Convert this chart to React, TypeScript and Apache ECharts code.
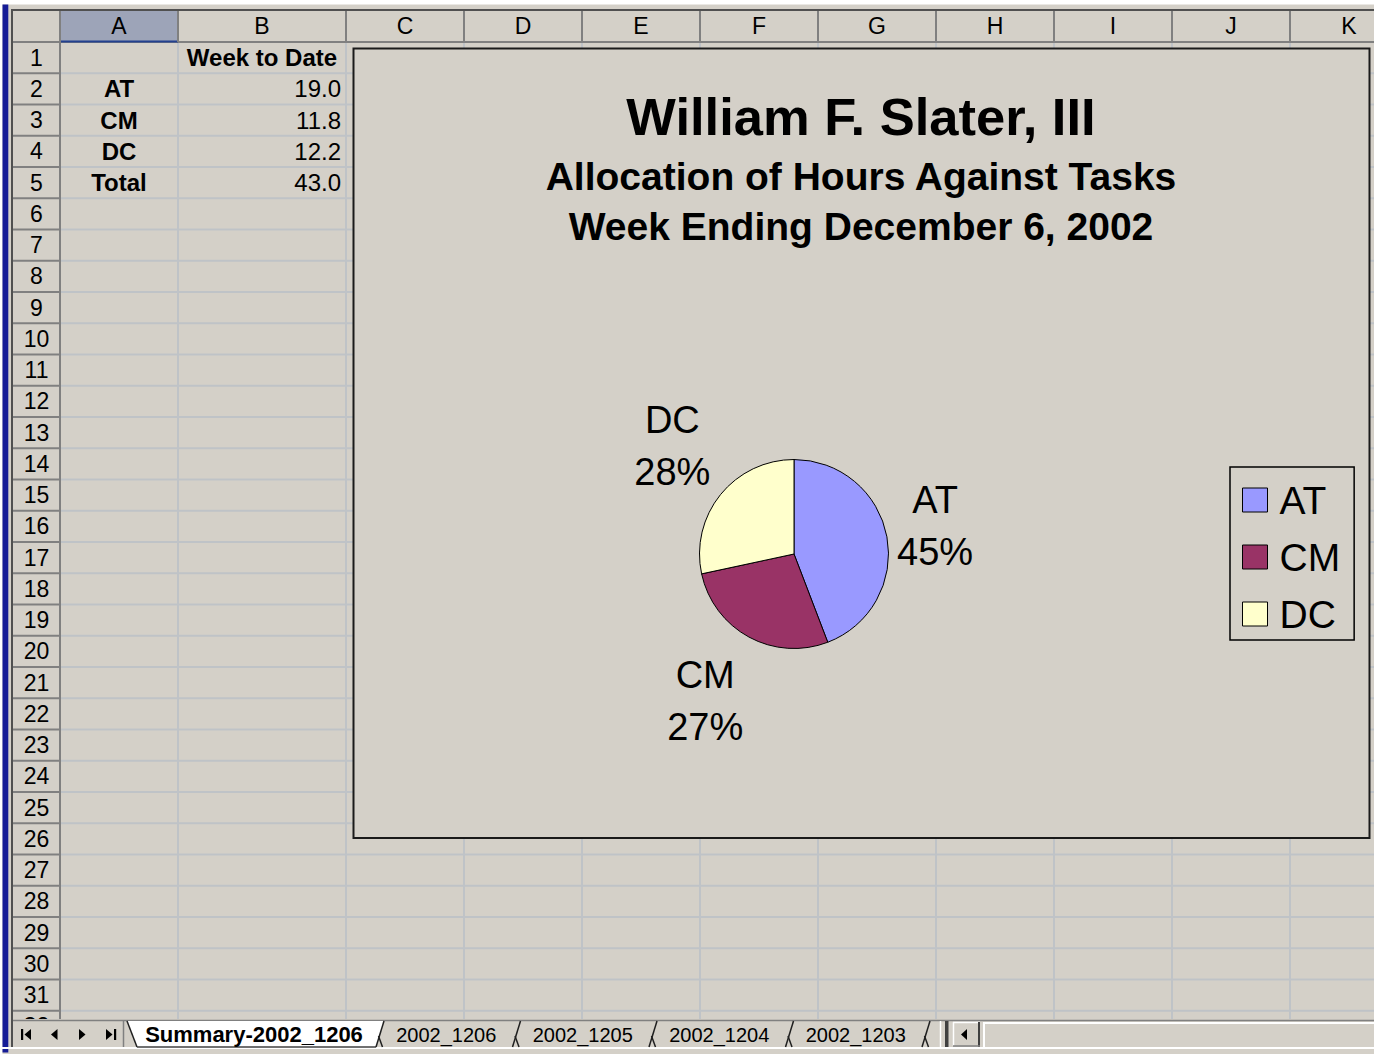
import React, { useEffect, useRef } from 'react';
import * as echarts from 'echarts';

const FONT = '"Liberation Sans", Arial, Helvetica, sans-serif';

// ---- data ----
const categories = ['AT', 'CM', 'DC'];
const weekToDate = [19.0, 11.8, 12.2];
const percentLabels = ['45%', '27%', '28%'];
const tableHeader = 'Week to Date';
const totalLabel = 'Total';
const chartTitle = 'William F. Slater, III';
const chartSubtitle = ['Allocation of Hours Against Tasks', 'Week Ending December 6, 2002'];
const columnLetters = ['A', 'B', 'C', 'D', 'E', 'F', 'G', 'H', 'I', 'J', 'K'];
const rowNumbers = Array.from({ length: 32 }, (_, i) => String(i + 1));
const sheetTabs = ['Summary-2002_1206', '2002_1206', '2002_1205', '2002_1204', '2002_1203'];

// ---- styles ----
const sliceColors = ['#9999FF', '#993366', '#FFFFCC'];
const labelLineLengths = [49, 75, 67];
const labelNudges = [[0, -2], [-8, -2], [4, -7]];

// ---- layout ----
const W = 1374;
const H = 1054;
const BG = '#D4D0C8';
const GRID = '#BFC3C7';
const HDR_LINE = '#808080';
const COL_X = [60, 178, 346, 464, 582, 700, 818, 936, 1054, 1172, 1290, 1408];
const HEADER_TOP = 11;
const HEADER_BOTTOM = 42;
const ROW_H = 31.25;
const SHEET_BOTTOM = 1019;
const rowY = (n: number) => HEADER_BOTTOM + ROW_H * n;
const rowCenter = (n: number) => HEADER_BOTTOM + ROW_H * (n - 0.5);

function buildGraphic() {
  const els: any[] = [];
  const line = (x1: number, y1: number, x2: number, y2: number, stroke: string, lineWidth = 1) =>
    els.push({ type: 'line', silent: true, shape: { x1, y1, x2, y2 }, style: { stroke, lineWidth } });
  const rect = (x: number, y: number, width: number, height: number, fill: string, stroke?: string, lineWidth?: number) =>
    els.push({
      type: 'rect', silent: true, shape: { x, y, width, height },
      style: stroke ? { fill, stroke, lineWidth } : { fill },
    });
  const text = (t: string, x: number, y: number, size: number, weight: string, align: string) =>
    els.push({
      type: 'text', silent: true, x, y,
      style: { text: t, fill: '#000', fontSize: size, fontWeight: weight, fontFamily: FONT, align, verticalAlign: 'middle' },
    });
  const poly = (points: number[][], fill: string) =>
    els.push({ type: 'polygon', silent: true, shape: { points }, style: { fill } });

  // window frame
  rect(0, 0, W, 4.5, '#FFFFFF');
  rect(0, 0, 2.5, H, '#FFFFFF');
  rect(2.5, 4.5, 5.8, H - 6, '#161C96');
  line(11, 10, W, 10, '#505050', 2);
  line(12, 10, 12, 1048, '#505050', 2);

  // cell gridlines
  for (let i = 1; i < COL_X.length; i++) line(COL_X[i], HEADER_BOTTOM, COL_X[i], SHEET_BOTTOM, GRID, 2);
  for (let n = 1; n <= 31; n++) line(COL_X[0], rowY(n), W, rowY(n), GRID, 2);

  // headers
  line(13, HEADER_BOTTOM, W, HEADER_BOTTOM, HDR_LINE, 2);
  rect(COL_X[0] + 1, HEADER_TOP, COL_X[1] - COL_X[0] - 1, HEADER_BOTTOM - HEADER_TOP - 1, '#9DA4B8');
  line(COL_X[0] + 1, HEADER_BOTTOM - 0.5, COL_X[1], HEADER_BOTTOM - 0.5, '#23408E', 2);
  for (let i = 0; i < COL_X.length; i++) line(COL_X[i], HEADER_TOP, COL_X[i], HEADER_BOTTOM, HDR_LINE, 2);
  line(COL_X[0], HEADER_TOP, COL_X[0], SHEET_BOTTOM, HDR_LINE, 2);
  for (let n = 1; n <= 32; n++) line(13, rowY(n), COL_X[0], rowY(n), HDR_LINE, 2);

  columnLetters.forEach((c, i) => text(c, (COL_X[i] + COL_X[i + 1]) / 2, 25.5, 23, 'normal', 'center'));
  rowNumbers.forEach((r, i) => text(r, 36.5, rowCenter(i + 1), 23, 'normal', 'center'));

  // table cells
  const colACenter = (COL_X[0] + COL_X[1]) / 2;
  const colBRight = COL_X[2] - 5;
  text(tableHeader, (COL_X[1] + COL_X[2]) / 2, rowCenter(1), 24, 'bold', 'center');
  categories.forEach((c, i) => {
    text(c, colACenter, rowCenter(i + 2), 24, 'bold', 'center');
    text(weekToDate[i].toFixed(1), colBRight, rowCenter(i + 2), 24, 'normal', 'right');
  });
  const total = weekToDate.reduce((a, b) => a + b, 0);
  text(totalLabel, colACenter, rowCenter(categories.length + 2), 24, 'bold', 'center');
  text(total.toFixed(1), colBRight, rowCenter(categories.length + 2), 24, 'normal', 'right');

  // embedded chart object
  rect(353.5, 48.5, 1016, 789.5, BG, '#1A1A1A', 2);

  // sheet tab bar
  rect(13, SHEET_BOTTOM, W - 13, H - SHEET_BOTTOM, BG);
  line(13, 1020.5, W, 1020.5, HDR_LINE, 1.5);
  line(0, 1048, W, 1048, '#FFFFFF', 2);
  // navigation buttons
  rect(21, 1029, 2.2, 11, '#000');
  poly([[31, 1029], [31, 1040], [24.5, 1034.5]], '#000');
  poly([[57.5, 1029], [57.5, 1040], [51, 1034.5]], '#000');
  poly([[79, 1029], [79, 1040], [85.5, 1034.5]], '#000');
  poly([[106, 1029], [106, 1040], [112.5, 1034.5]], '#000');
  rect(114, 1029, 2.2, 11, '#000');
  line(123.5, 1021, 123.5, 1047, HDR_LINE, 1.5);

  // active tab
  poly([[127, 1021], [384, 1021], [376, 1047], [137, 1047]], '#FFFFFF');
  line(127, 1021, 137, 1047, '#202020', 1.5);
  line(137, 1047, 376, 1047, '#404040', 1.5);
  const seps = [380, 516.5, 653, 789.5, 926];
  seps.forEach((x) => {
    line(x + 4, 1021, x - 4, 1047, '#202020', 1.5);
    line(x - 1.5, 1036, x + 2.5, 1047, '#202020', 1.5);
  });
  text(sheetTabs[0], 254, 1034.5, 22, 'bold', 'center');
  for (let i = 1; i < sheetTabs.length; i++) {
    text(sheetTabs[i], (seps[i - 1] + seps[i]) / 2 - 2, 1034.5, 20, 'normal', 'center');
  }

  // splitter and horizontal scrollbar
  line(940.5, 1021, 940.5, 1047, '#FFFFFF', 1.5);
  rect(945, 1021, 3.5, 26, '#404040');
  line(953.5, 1022, 953.5, 1046, '#FFFFFF', 1.5);
  line(953, 1022.5, 980, 1022.5, '#FFFFFF', 1.5);
  line(979, 1022, 979, 1047, '#404040', 2);
  line(953, 1046, 980, 1046, HDR_LINE, 1.5);
  poly([[967, 1029], [967, 1040], [961, 1034.5]], '#000');
  line(984, 1022, 984, 1047, '#FFFFFF', 2);
  line(983, 1023, W, 1023, '#FFFFFF', 2);

  return els;
}

export default function App() {
  const ref = useRef<HTMLDivElement>(null);

  useEffect(() => {
    if (!ref.current) return;
    const chart = echarts.init(ref.current, undefined, { renderer: 'svg' });

    const option: any = {
      animation: false,
      backgroundColor: BG,
      graphic: { elements: buildGraphic() },
      title: {
        text: chartTitle,
        subtext: chartSubtitle.join('\n'),
        left: 861,
        top: 89,
        padding: 0,
        itemGap: 8,
        textAlign: 'center',
        textStyle: { fontSize: 52.5, fontWeight: 'bold', color: '#000', fontFamily: FONT, lineHeight: 54 },
        subtextStyle: { fontSize: 39, fontWeight: 'bold', color: '#000', fontFamily: FONT, lineHeight: 50 },
      },
      legend: {
        orient: 'vertical',
        left: 1230,
        top: 467,
        selectedMode: false,
        icon: 'rect',
        itemWidth: 25,
        itemHeight: 24,
        itemGap: 17,
        padding: [13, 14, 6, 12],
        borderColor: '#000',
        borderWidth: 1.5,
        itemStyle: { borderColor: '#000', borderWidth: 1 },
        textStyle: { fontSize: 39, color: '#000', fontFamily: FONT, lineHeight: 40, padding: [0, 0, 0, 7] },
        data: categories,
      },
      series: [
        {
          type: 'pie',
          center: [794, 554],
          radius: 94.5,
          startAngle: 90,
          clockwise: true,
          avoidLabelOverlap: false,
          silent: true,
          emphasis: { disabled: true },
          itemStyle: { borderColor: '#000', borderWidth: 1 },
          label: {
            show: true,
            position: 'outside',
            distanceToLabelLine: 0,
            color: '#000',
            fontSize: 38,
            lineHeight: 52,
            fontFamily: FONT,
            formatter: (p: any) => `${p.name}\n${percentLabels[p.dataIndex]}`,
          },
          labelLine: { show: false, length: 50, length2: 0 },
          labelLayout: (params: any) => {
            const nudge = labelNudges[params.dataIndex] || [0, 0];
            return { align: 'center', dx: nudge[0], dy: nudge[1] };
          },
          data: categories.map((name, i) => ({
            name,
            value: weekToDate[i],
            itemStyle: { color: sliceColors[i] },
            labelLine: { show: false, length: labelLineLengths[i], length2: 0 },
          })),
        },
      ],
    };

    chart.setOption(option);
    return () => chart.dispose();
  }, []);

  return (
    <div
      ref={ref}
      style={{ position: 'fixed', left: 0, top: 0, width: W, height: H }}
    />
  );
}
